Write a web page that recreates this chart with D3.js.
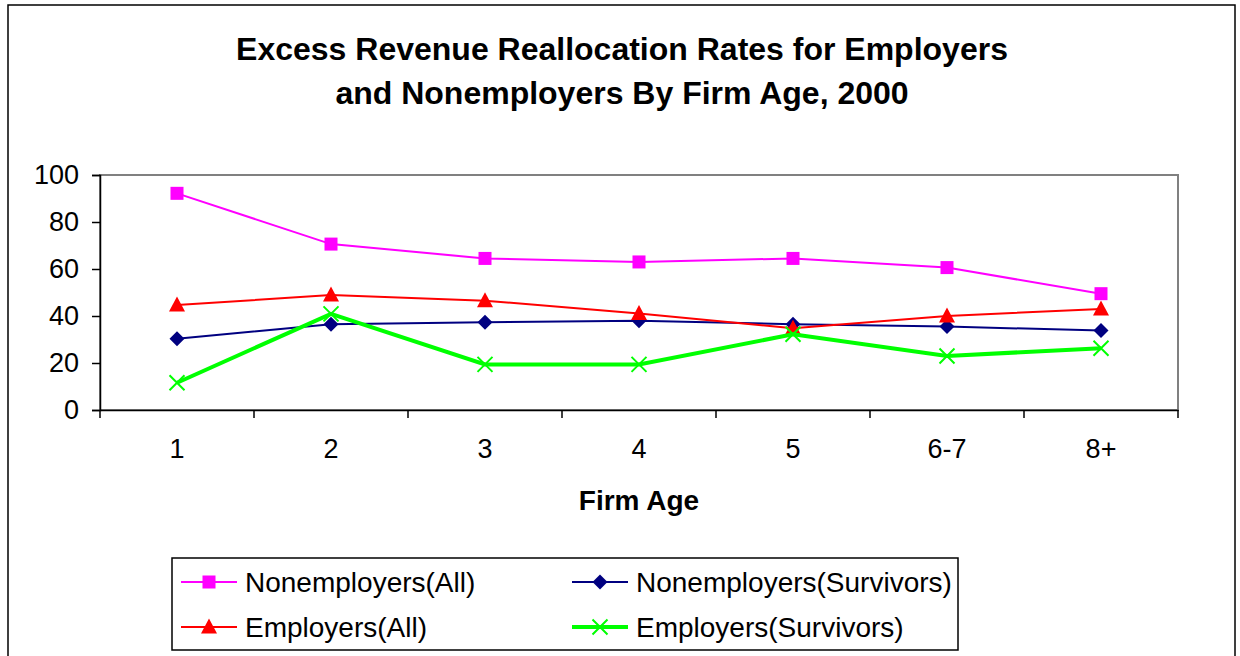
<!DOCTYPE html>
<html>
<head>
<meta charset="utf-8">
<script src="https://cdn.jsdelivr.net/npm/d3@7"></script>
<style>
body { margin: 0; background: #fff; }
text { font-family: "Liberation Sans", Arial, sans-serif; }
</style>
</head>
<body>
<script>
// data
var ages = ["1", "2", "3", "4", "5", "6-7", "8+"];
var nonAll = [92.2, 70.6, 64.5, 63.0, 64.5, 60.6, 49.5];
var nonSurv = [30.3, 36.5, 37.3, 38.0, 36.5, 35.5, 33.8];
var empAll = [44.7, 48.9, 46.5, 41.1, 34.8, 40.0, 43.0];
var empSurv = [11.6, 40.9, 19.4, 19.4, 32.2, 23.0, 26.3];
var yTicks = [0, 20, 40, 60, 80, 100];

var series = [
    {name: "Nonemployers(All)", values: nonAll, color: "#ff00ff", width: 2, mark: "square"},
    {name: "Nonemployers(Survivors)", values: nonSurv, color: "#000080", width: 2, mark: "diamond"},
    {name: "Employers(All)", values: empAll, color: "#ff0000", width: 2, mark: "triangle"},
    {name: "Employers(Survivors)", values: empSurv, color: "#00ff00", width: 4, mark: "x"}
];

var W = 1240, H = 656;
var svg = d3.select("body").append("svg")
    .attr("width", W).attr("height", H);

// outer chart frame
svg.append("rect")
    .attr("x", 8).attr("y", 5)
    .attr("width", 1227).attr("height", 700)
    .attr("fill", "#fff")
    .attr("stroke", "#000").attr("stroke-width", 1.5);

var title = svg.append("text")
    .attr("text-anchor", "middle")
    .attr("font-size", 32).attr("font-weight", "bold");
title.append("tspan").attr("x", 622).attr("y", 60)
    .text("Excess Revenue Reallocation Rates for Employers");
title.append("tspan").attr("x", 622).attr("y", 104)
    .text("and Nonemployers By Firm Age, 2000");

var pLeft = 100, pRight = 1178, pTop = 175, pBottom = 410;

var x = d3.scaleBand().domain(ages).range([pLeft, pRight]);
var y = d3.scaleLinear().domain([0, 100]).range([pBottom, pTop]);

// plot area border
svg.append("rect")
    .attr("x", pLeft).attr("y", pTop)
    .attr("width", pRight - pLeft).attr("height", pBottom - pTop)
    .attr("fill", "none").attr("stroke", "#808080").attr("stroke-width", 2);

// y axis
var yAxis = svg.append("g")
    .attr("transform", "translate(" + pLeft + ",0)")
    .call(d3.axisLeft(y).tickValues(yTicks).tickSize(8).tickPadding(13));
yAxis.select(".domain").attr("stroke", "#000").attr("stroke-width", 1.5);
yAxis.selectAll(".tick line").attr("stroke", "#000").attr("stroke-width", 1.5);
yAxis.selectAll("text").attr("font-size", 27).attr("fill", "#000")
    .attr("font-family", "Liberation Sans, Arial, sans-serif");

// x axis: ticks at category boundaries
var xAxis = svg.append("g")
    .attr("transform", "translate(0," + pBottom + ")")
    .call(d3.axisBottom(x).tickSize(0).tickPadding(29));
xAxis.select(".domain").attr("stroke", "#000").attr("stroke-width", 1.5);
xAxis.selectAll("text").attr("font-size", 27).attr("fill", "#000")
    .attr("font-family", "Liberation Sans, Arial, sans-serif");
var bounds = ages.map(function(a){ return x(a); }).concat([pRight]);
xAxis.selectAll(".bound").data(bounds).enter().append("line")
    .attr("x1", function(d){ return d; }).attr("x2", function(d){ return d; })
    .attr("y1", 0).attr("y2", 8)
    .attr("stroke", "#000").attr("stroke-width", 1.5);

svg.append("text")
    .attr("x", (pLeft + pRight) / 2).attr("y", 510)
    .attr("text-anchor", "middle")
    .attr("font-size", 28).attr("font-weight", "bold")
    .text("Firm Age");

function marker(g, kind, color, cx, cy){
    if (kind == "square"){
	g.append("rect").attr("x", cx - 6.5).attr("y", cy - 6.5)
	    .attr("width", 13).attr("height", 13).attr("fill", color);
    } else if (kind == "diamond"){
	g.append("path")
	    .attr("d", "M" + cx + "," + (cy - 7.5) + "L" + (cx + 7.5) + "," + cy
		  + "L" + cx + "," + (cy + 7.5) + "L" + (cx - 7.5) + "," + cy + "Z")
	    .attr("fill", color);
    } else if (kind == "triangle"){
	g.append("path")
	    .attr("d", "M" + cx + "," + (cy - 8.5) + "L" + (cx + 8) + "," + (cy + 6.5)
		  + "L" + (cx - 8) + "," + (cy + 6.5) + "Z")
	    .attr("fill", color);
    } else {
	g.append("path")
	    .attr("d", "M" + (cx - 7.5) + "," + (cy - 7.5) + "L" + (cx + 7.5) + "," + (cy + 7.5)
		  + "M" + (cx + 7.5) + "," + (cy - 7.5) + "L" + (cx - 7.5) + "," + (cy + 7.5))
	    .attr("stroke", color).attr("stroke-width", 2).attr("fill", "none");
    }
}

var line = d3.line()
    .x(function(d, i){ return x(ages[i]) + x.bandwidth() / 2; })
    .y(function(d){ return y(d); });

series.forEach(function(s){
    var g = svg.append("g");
    g.append("path")
	.attr("d", line(s.values))
	.attr("fill", "none")
	.attr("stroke", s.color)
	.attr("stroke-width", s.width);
    s.values.forEach(function(v, i){
	marker(g, s.mark, s.color, x(ages[i]) + x.bandwidth() / 2, y(v));
    });
});

// legend
svg.append("rect")
    .attr("x", 172).attr("y", 558)
    .attr("width", 786).attr("height", 92)
    .attr("fill", "#fff").attr("stroke", "#000").attr("stroke-width", 1.5);

var legendPos = [[181, 582], [572, 582], [181, 627], [572, 627]];
series.forEach(function(s, i){
    var p = legendPos[i];
    var g = svg.append("g");
    g.append("line")
	.attr("x1", p[0]).attr("x2", p[0] + 56)
	.attr("y1", p[1]).attr("y2", p[1])
	.attr("stroke", s.color).attr("stroke-width", s.width);
    marker(g, s.mark, s.color, p[0] + 28, p[1]);
    g.append("text")
	.attr("x", p[0] + 64).attr("y", p[1] + 10)
	.attr("font-size", 28)
	.text(s.name);
});
</script>
</body>
</html>
